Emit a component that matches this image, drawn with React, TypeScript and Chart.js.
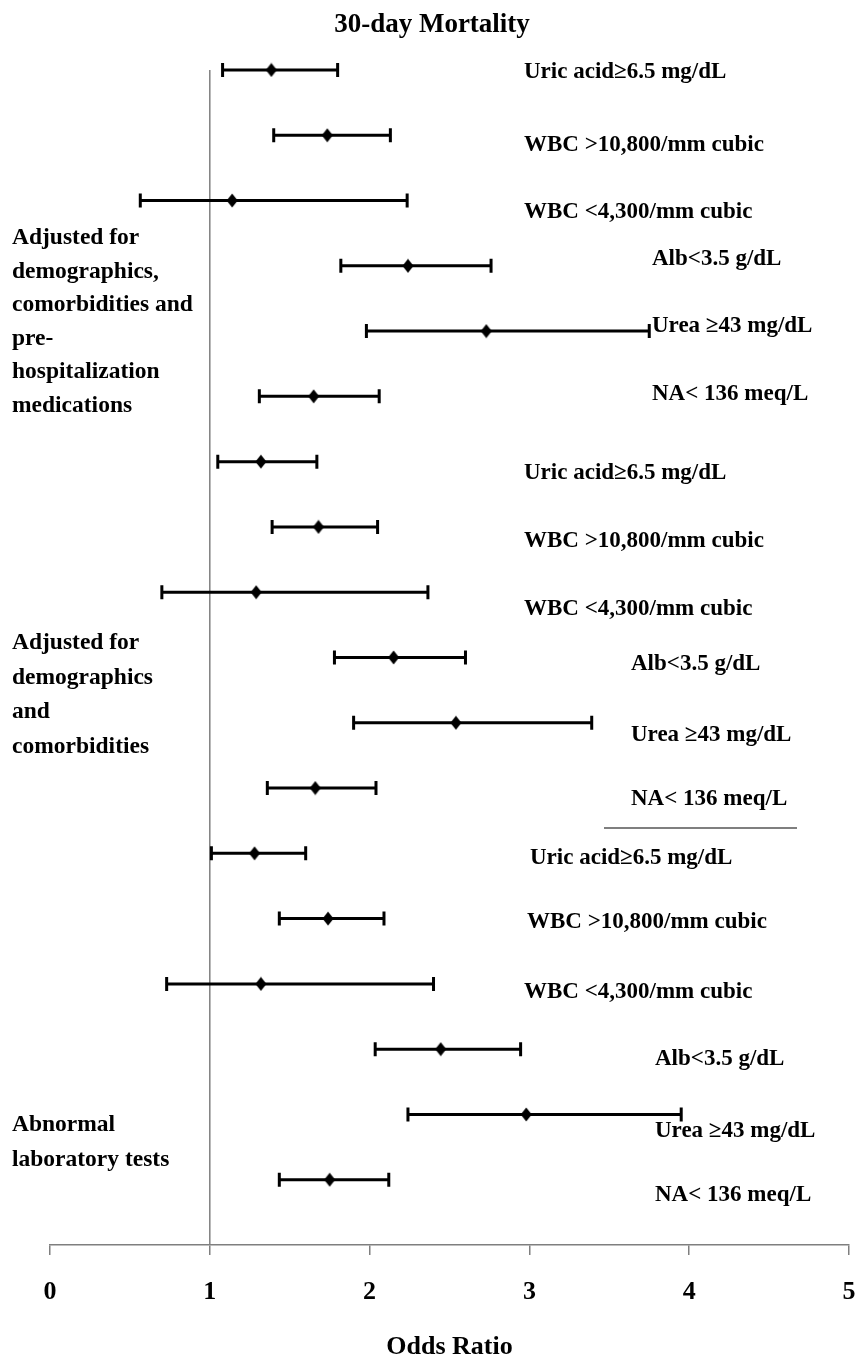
import React, { useEffect, useRef } from "react";
import { Chart, registerables } from "chart.js";

Chart.register(...registerables);

// Row labels, top to bottom
const rowLabels = [
  "Uric acid\u22656.5 mg/dL",
  "WBC >10,800/mm cubic",
  "WBC <4,300/mm cubic",
  "Alb<3.5 g/dL",
  "Urea \u226543 mg/dL",
  "NA< 136 meq/L",
  "Uric acid\u22656.5 mg/dL",
  "WBC >10,800/mm cubic",
  "WBC <4,300/mm cubic",
  "Alb<3.5 g/dL",
  "Urea \u226543 mg/dL",
  "NA< 136 meq/L",
  "Uric acid\u22656.5 mg/dL",
  "WBC >10,800/mm cubic",
  "WBC <4,300/mm cubic",
  "Alb<3.5 g/dL",
  "Urea \u226543 mg/dL",
  "NA< 136 meq/L",
];

// Odds ratios and 95% confidence limits per row
const oddsRatio = [1.385, 1.735, 1.14, 2.24, 2.73, 1.65, 1.32, 1.68, 1.29, 2.15, 2.54, 1.66, 1.28, 1.74, 1.32, 2.445, 2.98, 1.75];
const ciLower = [1.08, 1.4, 0.565, 1.82, 1.98, 1.31, 1.05, 1.39, 0.7, 1.78, 1.9, 1.36, 1.01, 1.435, 0.73, 2.035, 2.24, 1.435];
const ciUpper = [1.8, 2.13, 2.235, 2.76, 3.75, 2.06, 1.67, 2.05, 2.365, 2.6, 3.39, 2.04, 1.6, 2.09, 2.4, 2.945, 3.95, 2.12];

// Model groups shown on the left
const groupTitles = [
  ["Adjusted for", "demographics,", "comorbidities and", "pre-", "hospitalization", "medications"],
  ["Adjusted for", "demographics", "and", "comorbidities"],
  ["Abnormal", "laboratory tests"],
];

const xTicks = [0, 1, 2, 3, 4, 5];
const referenceOR = 1;
const chartTitle = "30-day Mortality";
const axisTitle = "Odds Ratio";

// Label placement (pixels)
const rowLabelX = [524, 524, 524, 652, 652, 652, 524, 524, 524, 631, 631, 631, 530, 527, 524, 655, 655, 655];
const rowLabelDy = [2, 10, 12, -7, -5, -2, 11, 14, 17, 7, 12, 11, 5, 3, 8, 10, 17, 15];
const groupLayout = [
  { x: 12, y: 238, step: 33.5 },
  { x: 12, y: 643, step: 34.5 },
  { x: 12, y: 1125, step: 34.5 },
];

const FONT = "'Liberation Serif', 'Times New Roman', serif";

function makeDiamond(): HTMLCanvasElement {
  const c = document.createElement("canvas");
  c.width = 12;
  c.height = 15;
  const g = c.getContext("2d")!;
  g.fillStyle = "#000";
  g.beginPath();
  g.moveTo(6, 0.5);
  g.lineTo(11.5, 7.5);
  g.lineTo(6, 14.5);
  g.lineTo(0.5, 7.5);
  g.closePath();
  g.fill();
  return c;
}

const ciBarsPlugin = {
  id: "ciBars",
  beforeDatasetDraw(chart: any, args: any) {
    if (args.index !== 1) return;
    const { ctx, scales } = chart;
    const xs = scales.x;
    const ys = scales.y;
    ctx.save();
    ctx.strokeStyle = "#000";
    ctx.lineWidth = 3;
    ctx.lineCap = "butt";
    for (let i = 0; i < oddsRatio.length; i++) {
      const y = ys.getPixelForValue(i);
      const x0 = xs.getPixelForValue(ciLower[i]);
      const x1 = xs.getPixelForValue(ciUpper[i]);
      ctx.beginPath();
      ctx.moveTo(x0, y);
      ctx.lineTo(x1, y);
      ctx.moveTo(x0, y - 7);
      ctx.lineTo(x0, y + 7);
      ctx.moveTo(x1, y - 7);
      ctx.lineTo(x1, y + 7);
      ctx.stroke();
    }
    ctx.restore();
  },
};

const textPlugin = {
  id: "forestText",
  afterDraw(chart: any) {
    const { ctx, scales } = chart;
    const ys = scales.y;
    ctx.save();
    ctx.fillStyle = "#000";
    ctx.textBaseline = "middle";

    ctx.font = `bold 27px ${FONT}`;
    ctx.textAlign = "center";
    ctx.fillText(chartTitle, 432, 25);

    ctx.font = `bold 23px ${FONT}`;
    ctx.textAlign = "left";
    rowLabels.forEach((label, i) => {
      ctx.fillText(label, rowLabelX[i], ys.getPixelForValue(i) + rowLabelDy[i]);
    });

    ctx.font = `bold 23.5px ${FONT}`;
    groupTitles.forEach((lines, g) => {
      const L = groupLayout[g];
      lines.forEach((line, k) => {
        ctx.fillText(line, L.x, L.y + k * L.step);
      });
    });

    // rule beneath the middle block
    ctx.strokeStyle = "#000";
    ctx.lineWidth = 1.2;
    ctx.beginPath();
    ctx.moveTo(604, 828);
    ctx.lineTo(797, 828);
    ctx.stroke();
    ctx.restore();
  },
};

export default function App() {
  const canvasRef = useRef<HTMLCanvasElement | null>(null);

  useEffect(() => {
    const canvas = canvasRef.current;
    if (!canvas) return;
    const diamond = makeDiamond();
    const rows = oddsRatio.length;
    const chart = new Chart(canvas, {
      type: "scatter",
      data: {
        datasets: [
          {
            type: "line",
            data: [
              { x: referenceOR, y: 0 },
              { x: referenceOR, y: rows },
            ],
            borderColor: "#7f7f7f",
            borderWidth: 1.5,
            pointRadius: 0,
            order: 2,
          } as any,
          {
            type: "scatter",
            data: oddsRatio.map((v, i) => ({ x: v, y: i })),
            pointStyle: diamond as any,
            pointRadius: 6,
            backgroundColor: "#000",
            borderColor: "#000",
            order: 1,
          },
        ],
      },
      options: {
        animation: false,
        responsive: false,
        devicePixelRatio: 1,
        events: [],
        layout: { autoPadding: false, padding: { left: 50, right: 8, top: 4.7, bottom: 1 } },
        plugins: {
          legend: { display: false },
          tooltip: { enabled: false },
          title: { display: false },
        },
        scales: {
          x: {
            type: "linear",
            min: 0,
            max: 5,
            afterBuildTicks: (scale: any) => {
              scale.ticks = xTicks.map((v) => ({ value: v }));
            },
            ticks: {
              color: "#000",
              padding: 0,
              font: { family: FONT, size: 26, weight: "bold", lineHeight: "74px" },
              maxRotation: 0,
            },
            grid: {
              drawOnChartArea: false,
              drawTicks: true,
              tickLength: 10,
              color: "#7f7f7f",
              lineWidth: 1.5,
            },
            border: { display: true, color: "#7f7f7f", width: 1.5 },
            title: {
              display: true,
              text: axisTitle,
              color: "#000",
              font: { family: FONT, size: 26, weight: "bold", lineHeight: 1 },
              padding: { top: 5, bottom: 0 },
            },
          },
          y: {
            type: "linear",
            display: false,
            reverse: true,
            min: -1,
            max: rows,
          },
        },
      },
      plugins: [ciBarsPlugin, textPlugin],
    });
    return () => chart.destroy();
  }, []);

  return (
    <div style={{ position: "absolute", left: 0, top: 0, width: 857, height: 1361, background: "#fff" }}>
      <canvas ref={canvasRef} width={857} height={1361} style={{ display: "block" }} />
    </div>
  );
}
